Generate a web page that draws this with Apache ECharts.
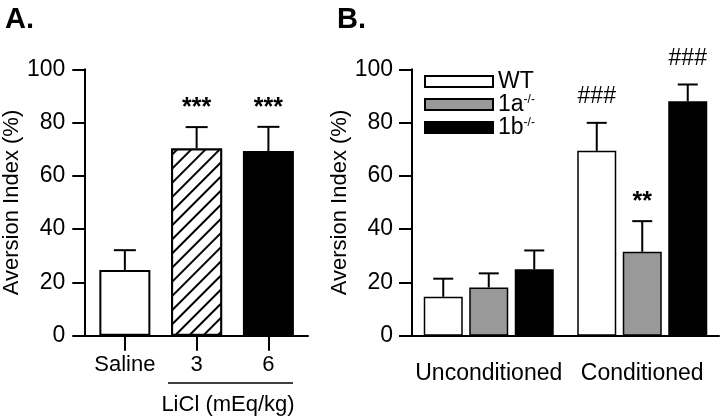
<!DOCTYPE html>
<html>
<head>
<meta charset="utf-8">
<script src="https://cdn.jsdelivr.net/npm/echarts@6/dist/echarts.min.js"></script>
<style>
  html, body { margin: 0; padding: 0; background: #fff; }
  #chart { width: 720px; height: 420px; }
</style>
</head>
<body>
<div id="chart"></div>
<script>
// panel A: LiCl dose
var catsA = ['Saline', '3', '6'];
var meanA = [24.7, 70.3, 69.3];
var semA = [7.4, 8.0, 9.1];
var marksA = ['', '***', '***'];

// panel B: genotype x conditioning
var catsB = ['Unconditioned', 'Conditioned'];
var groupsB = ['WT', '1a', '1b'];
var meanWT = [14.6, 69.4];
var semWT = [6.8, 10.5];
var marksWT = ['', '###'];
var mean1a = [18.1, 31.5];
var sem1a = [5.3, 11.5];
var marks1a = ['', '**'];
var mean1b = [24.9, 88.0];
var sem1b = [7.1, 6.3];
var marks1b = ['', '###'];

var yTicks = [0, 20, 40, 60, 80, 100];

var FONT = '"Liberation Sans", Arial, sans-serif';
var chart = echarts.init(document.getElementById('chart'));

// fill style per bar in panel A (open, hatched, solid)
var hatch = {
  symbol: 'rect', symbolSize: 1, color: '#000', backgroundColor: '#fff',
  dashArrayX: [1, 0], dashArrayY: [1.5, 7.5], rotation: -Math.PI / 4
};
var styleA = [
  { color: '#fff' },
  { color: '#fff', decal: hatch },
  { color: '#000' }
];

var barA = meanA.map(function (v, i) {
  return {
    value: [i, v],
    itemStyle: Object.assign({ borderColor: '#000', borderWidth: 2 }, styleA[i])
  };
});
var errDataA = meanA.map(function (v, i) { return [i, v, semA[i]]; });

function errItem(p0, p1, half, mark, markGap, markFont) {
  var kids = [
    { type: 'line', shape: { x1: p0[0], y1: p0[1], x2: p1[0], y2: p1[1] },
      style: { stroke: '#000', lineWidth: 2 } },
    { type: 'line', shape: { x1: p1[0] - half, y1: p1[1], x2: p1[0] + half, y2: p1[1] },
      style: { stroke: '#000', lineWidth: 2 } }
  ];
  if (mark) {
    kids.push({ type: 'text', style: {
      text: mark, x: p1[0], y: p1[1] - markGap, align: 'center', verticalAlign: 'middle',
      font: markFont, fill: '#000' } });
  }
  return { type: 'group', children: kids };
}

function renderErrA(params, api) {
  var x = api.value(0), m = api.value(1), e = api.value(2);
  return errItem(api.coord([x, m]), api.coord([x, m + e]), 11,
    marksA[params.dataIndex], 19, 'bold 25px ' + FONT);
}

var BAR_B = 39, GAP_B = 6.5;
function makeRenderErrB(k, marks) {
  return function (params, api) {
    var x = api.value(0), m = api.value(1), e = api.value(2);
    var off = (k - 1) * (BAR_B + GAP_B);
    var p0 = api.coord([x, m]); p0[0] += off;
    var p1 = api.coord([x, m + e]); p1[0] += off;
    var mark = marks[params.dataIndex];
    var gap = mark === '**' ? 19 : 26;
    return errItem(p0, p1, 10, mark, gap,
      (mark === '**' ? 'bold 25px ' : '23px ') + FONT);
  };
}

var fillB = ['#fff', '#999', '#000'];
var meansB = [meanWT, mean1a, mean1b];
var semsB = [semWT, sem1a, sem1b];
var marksB = [marksWT, marks1a, marks1b];

var seriesB = [];
groupsB.forEach(function (g, k) {
  seriesB.push({
    name: g, type: 'bar', xAxisIndex: 1, yAxisIndex: 1,
    barWidth: BAR_B, barGap: (GAP_B / BAR_B * 100) + '%',
    itemStyle: { color: fillB[k], borderColor: '#000', borderWidth: 1.5 },
    data: meansB[k]
  });
});
groupsB.forEach(function (g, k) {
  seriesB.push({
    type: 'custom', xAxisIndex: 1, yAxisIndex: 1, z: 3,
    renderItem: makeRenderErrB(k, marksB[k]),
    data: meansB[k].map(function (v, i) { return [i, v, semsB[k][i]]; })
  });
});

function yAxisCfg(grid, tickLen) {
  return {
    type: 'value', gridIndex: grid, min: 0, max: 100, interval: 20,
    name: 'Aversion Index (%)', nameLocation: 'middle', nameGap: grid ? 58 : 55,
    nameTextStyle: { fontFamily: FONT, fontSize: 22, color: '#000' },
    axisLine: { show: true, onZero: false, lineStyle: { color: '#000', width: 2 } },
    axisTick: { show: true, length: tickLen, lineStyle: { color: '#000', width: 2 } },
    axisLabel: { margin: 19, fontFamily: FONT, fontSize: 23, color: '#000' },
    splitLine: { show: false }
  };
}

var option = {
  animation: false,
  backgroundColor: '#fff',
  title: [
    { text: 'A.', left: 0, top: 0, textStyle: { fontFamily: FONT, fontSize: 29, fontWeight: 'bold', color: '#000' } },
    { text: 'B.', left: 332, top: 0, textStyle: { fontFamily: FONT, fontSize: 29, fontWeight: 'bold', color: '#000' } }
  ],
  grid: [
    { left: 82, right: 412, top: 69.3, bottom: 84.3 },
    { left: 412, right: 1, top: 69.3, bottom: 84.3 }
  ],
  legend: {
    data: groupsB, orient: 'vertical', left: 419, top: 65,
    icon: 'rect', itemWidth: 68, itemHeight: 11, itemGap: 0,
    formatter: function (name) {
      return name === 'WT' ? '{n|WT}' : '{n|' + name + '}{s|-/-}';
    },
    textStyle: {
      rich: {
        n: { fontFamily: FONT, fontSize: 23, color: '#000', lineHeight: 22 },
        s: { fontFamily: FONT, fontSize: 12, color: '#000', verticalAlign: 'top', lineHeight: 14 }
      }
    }
  },
  xAxis: [
    {
      type: 'value', gridIndex: 0, min: -0.5655, max: 2.5517,
      axisLine: { show: true, lineStyle: { color: '#000', width: 2 } },
      axisTick: { show: true, customValues: [0, 1, 2], length: 15, lineStyle: { color: '#000', width: 2 } },
      axisLabel: {
        customValues: [0, 1, 2], margin: 18, fontFamily: FONT, fontSize: 22, color: '#000',
        formatter: function (v) { return catsA[Math.round(v)]; }
      },
      splitLine: { show: false }
    },
    {
      type: 'category', gridIndex: 1, data: catsB,
      axisLine: { show: true, lineStyle: { color: '#000', width: 2 } },
      axisTick: { show: false },
      axisLabel: { interval: 0, margin: 26, fontFamily: FONT, fontSize: 23, color: '#000' }
    }
  ],
  yAxis: [yAxisCfg(0, 12), yAxisCfg(1, 13)],
  graphic: [
    { type: 'line', shape: { x1: 168, y1: 383, x2: 293, y2: 383 }, style: { stroke: '#000', lineWidth: 1.5 } },
    { type: 'text', x: 228, y: 405, style: { text: 'LiCl (mEq/kg)', align: 'center', verticalAlign: 'middle',
      font: '22px ' + FONT, fill: '#000' } }
  ],
  series: [
    { type: 'bar', xAxisIndex: 0, yAxisIndex: 0, barWidth: 51, data: barA },
    { type: 'custom', xAxisIndex: 0, yAxisIndex: 0, z: 3, renderItem: renderErrA, data: errDataA }
  ].concat(seriesB)
};

chart.setOption(option);
</script>
</body>
</html>
